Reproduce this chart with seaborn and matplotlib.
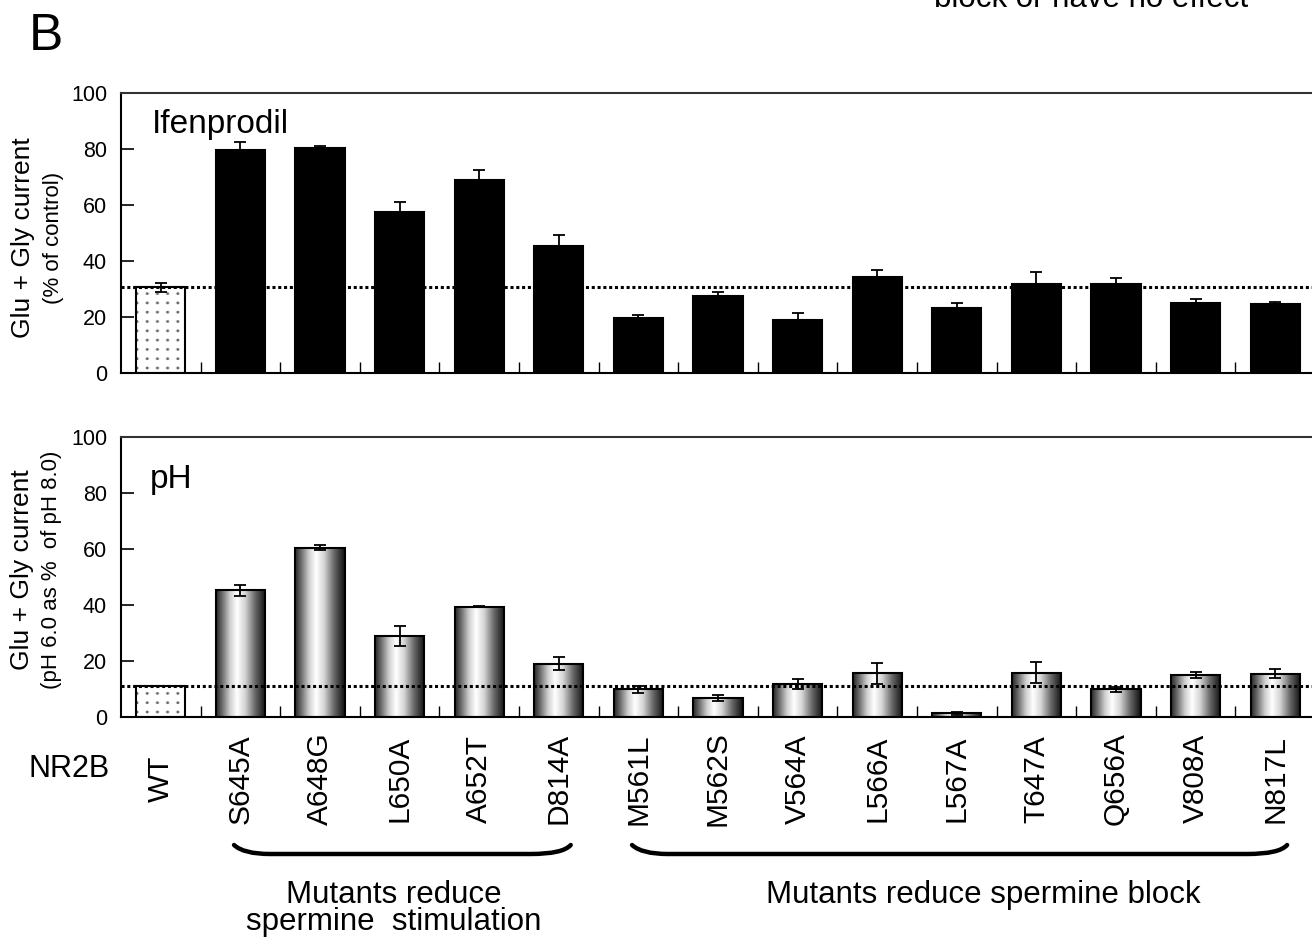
import numpy as np
import pandas as pd
import matplotlib
matplotlib.use("Agg")
import matplotlib.pyplot as plt
import seaborn as sns
from matplotlib.colors import LinearSegmentedColormap
from matplotlib.path import Path
from matplotlib.patches import PathPatch
from matplotlib.transforms import blended_transform_factory

# NR2B point mutants and wild type
mutants = ["WT", "S645A", "A648G", "L650A", "A652T", "D814A",
           "M561L", "M562S", "V564A", "L566A", "L567A", "T647A",
           "Q656A", "V808A", "N817L"]

# Ifenprodil block: current as % of control (mean, s.e.m.)
ifen_mean = [30.6, 79.8, 80.2, 57.6, 68.9, 45.4, 19.8, 27.4, 18.8,
             34.3, 23.2, 31.8, 31.8, 25.1, 24.6]
ifen_sem = [1.5, 2.8, 0.9, 3.6, 3.6, 3.9, 0.8, 1.6, 2.5,
            2.4, 1.7, 4.4, 2.2, 1.5, 0.9]

# Proton sensitivity: pH 6.0 current as % of pH 8.0 (mean, s.e.m.)
ph_mean = [10.9, 45.2, 60.5, 29.0, 39.4, 19.0, 9.9, 6.8, 11.9,
           15.6, 1.3, 15.8, 9.9, 14.9, 15.5]
ph_sem = [0.0, 2.0, 1.0, 3.5, 0.2, 2.3, 1.3, 1.2, 1.8,
          3.8, 0.5, 3.7, 0.9, 1.1, 1.7]

# mutant groups (first, last) shown with brackets below the axis
stim_group = ("S645A", "D814A")
block_group = ("M561L", "N817L")

df = pd.DataFrame({"mutant": mutants,
                   "ifen": ifen_mean, "ifen_sem": ifen_sem,
                   "ph": ph_mean, "ph_sem": ph_sem})

sns.set_style("white")
plt.rcParams["font.family"] = ["Liberation Sans", "DejaVu Sans"]
for key in ("text.color", "axes.labelcolor", "xtick.color", "ytick.color"):
    plt.rcParams[key] = "black"

W, H = 1312, 948
fig = plt.figure(figsize=(W / 100, H / 100), dpi=100)


def fig_box(left, top, right, bottom):
    return [left / W, 1 - bottom / H, (right - left) / W, (bottom - top) / H]


ax_top = fig.add_axes(fig_box(121, 93, 1315, 373))
ax_bot = fig.add_axes(fig_box(121, 437, 1315, 717))

BAR_W = 0.62
n = len(mutants)

# cylinder-like shading for the pH bars
shade = LinearSegmentedColormap.from_list(
    "cyl", [(0.0, "#262626"), (0.12, "#6a6a6a"), (0.28, "#cfcfcf"),
            (0.42, "#ffffff"), (0.58, "#d6d6d6"), (0.78, "#6a6a6a"),
            (1.0, "#0e0e0e")])
ramp = np.linspace(0, 1, 256)[None, :]


def dotted_texture(ax, patch):
    """Gray dot grid image clipped to a bar."""
    ext = patch.get_window_extent(fig.canvas.get_renderer())
    wpx, hpx = int(round(ext.width)), int(round(ext.height))
    yy, xx = np.mgrid[0:hpx, 0:wpx]
    dx = (xx - 10.5) % 10.0
    dy = (yy - 4.5) % 9.3
    d = np.hypot(np.minimum(dx, 10.0 - dx), np.minimum(dy, 9.3 - dy))
    val = 1.0 - np.clip(1.9 - d, 0, 1) * 0.6
    img = np.dstack([val, val, val])
    x0 = patch.get_x()
    im = ax.imshow(img, extent=(x0, x0 + patch.get_width(), 0, patch.get_height()),
                   origin="lower", aspect="auto", zorder=0.6,
                   interpolation="bilinear")
    im.set_clip_path(patch)


for ax, col, err, shaded in [(ax_top, "ifen", "ifen_sem", False),
                              (ax_bot, "ph", "ph_sem", True)]:
    sns.barplot(data=df, x="mutant", y=col, order=mutants, color="black",
                saturation=1, width=BAR_W, edgecolor="black", linewidth=1.5,
                errorbar=None, ax=ax)
    ax.set_xlim(-0.5, n - 0.5)
    ax.set_ylim(0, 100)
    bars = list(ax.patches)[:n]
    for i, p in enumerate(bars):
        if i == 0:
            p.set_facecolor("none")
        elif shaded:
            p.set_facecolor("none")
            x0 = p.get_x()
            im = ax.imshow(ramp, cmap=shade, vmin=0, vmax=1,
                           extent=(x0, x0 + p.get_width(), 0, p.get_height()),
                           aspect="auto", zorder=0.6, interpolation="bilinear")
            im.set_clip_path(p)
    ax.set_xlim(-0.5, n - 0.5)
    ax.set_ylim(0, 100)
    dotted_texture(ax, bars[0])
    ax.set_xlim(-0.5, n - 0.5)
    ax.set_ylim(0, 100)

    ax.errorbar(np.arange(n), df[col], yerr=df[err], fmt="none",
                ecolor="black", elinewidth=1.3, capsize=4.3, capthick=1.3,
                zorder=3)
    # wild-type reference level
    ax.axhline(df[col].iloc[0], color="black", lw=2.2,
               ls=(0, (1.0, 0.9)), zorder=4)

    ax.set_yticks(np.arange(0, 101, 20))
    ax.tick_params(axis="y", direction="in", length=9, width=1.2,
                   labelsize=15.5, pad=10, left=True, colors="black")
    ax.set_xticks(np.arange(0.5, n - 1, 1), minor=True)
    ax.tick_params(axis="x", which="minor", direction="in", length=8,
                   width=1, bottom=True)
    ax.tick_params(axis="x", which="major", length=0)
    ax.set_xlabel("")
    ax.set_ylabel("")
    for side, s in ax.spines.items():
        s.set_visible(True)
        s.set_linewidth(1.5)
        s.set_color("#333333" if side == "top" else "black")

ax_top.tick_params(axis="x", which="major", labelbottom=False)
ax_bot.tick_params(axis="x", which="major", labelsize=21.5, pad=44.5,
                   labelrotation=90)
for lbl in ax_bot.get_xticklabels():
    lbl.set_verticalalignment("center")

# panel titles
ax_top.text(0.026, 0.857, "Ifenprodil", transform=ax_top.transAxes,
            fontsize=24, va="baseline", ha="left")
ax_bot.text(0.024, 0.818, "pH", transform=ax_bot.transAxes,
            fontsize=24, va="baseline", ha="left")

# y-axis titles (two lines each, different sizes)
fig.text(23 / W, 1 - 238 / H, "Glu + Gly current", rotation=90,
         fontsize=19, ha="center", va="center")
fig.text(54 / W, 1 - 238 / H, "(% of control)", rotation=90,
         fontsize=16, ha="center", va="center")
fig.text(22 / W, 1 - 570 / H, "Glu + Gly current", rotation=90,
         fontsize=19, ha="center", va="center")
fig.text(52 / W, 1 - 570 / H, "(pH 6.0 as %  of pH 8.0)", rotation=90,
         fontsize=16, ha="center", va="center")

fig.text(29 / W, 1 - 50 / H, "B", fontsize=37, ha="left", va="baseline")
fig.text(1091 / W, 1 - 7 / H, "block or have no effect", fontsize=22.5,
         ha="center", va="baseline")
fig.text(28 / W, 1 - 777 / H, "NR2B", fontsize=22, ha="left", va="baseline")

# group brackets under the tick labels
btrans = blended_transform_factory(ax_bot.transData, fig.transFigure)
y_top = 1 - 845 / H
y_bot = 1 - 854 / H


def bracket(first, last, pad_l=0.08, pad_r=0.15):
    x0 = mutants.index(first) - pad_l
    x1 = mutants.index(last) + pad_r
    verts = [(x0, y_top), (x0 + 0.12, y_bot), (x0 + 0.45, y_bot),
             (x1 - 0.5, y_bot),
             (x1 - 0.1, y_bot), (x1, y_top)]
    codes = [Path.MOVETO, Path.CURVE3, Path.CURVE3, Path.LINETO,
             Path.CURVE3, Path.CURVE3]
    fig.add_artist(PathPatch(Path(verts, codes), transform=btrans,
                             facecolor="none", edgecolor="black", lw=3.2,
                             capstyle="round"))


bracket(*stim_group)
bracket(*block_group)

fig.text(394 / W, 1 - 903 / H, "Mutants reduce", fontsize=22.5,
         ha="center", va="baseline")
fig.text(394 / W, 1 - 930 / H, "spermine  stimulation", fontsize=22.5,
         ha="center", va="baseline")
fig.text(983 / W, 1 - 903 / H, "Mutants reduce spermine block",
         fontsize=22.5, ha="center", va="baseline")

fig.savefig("out.png", dpi=100)
